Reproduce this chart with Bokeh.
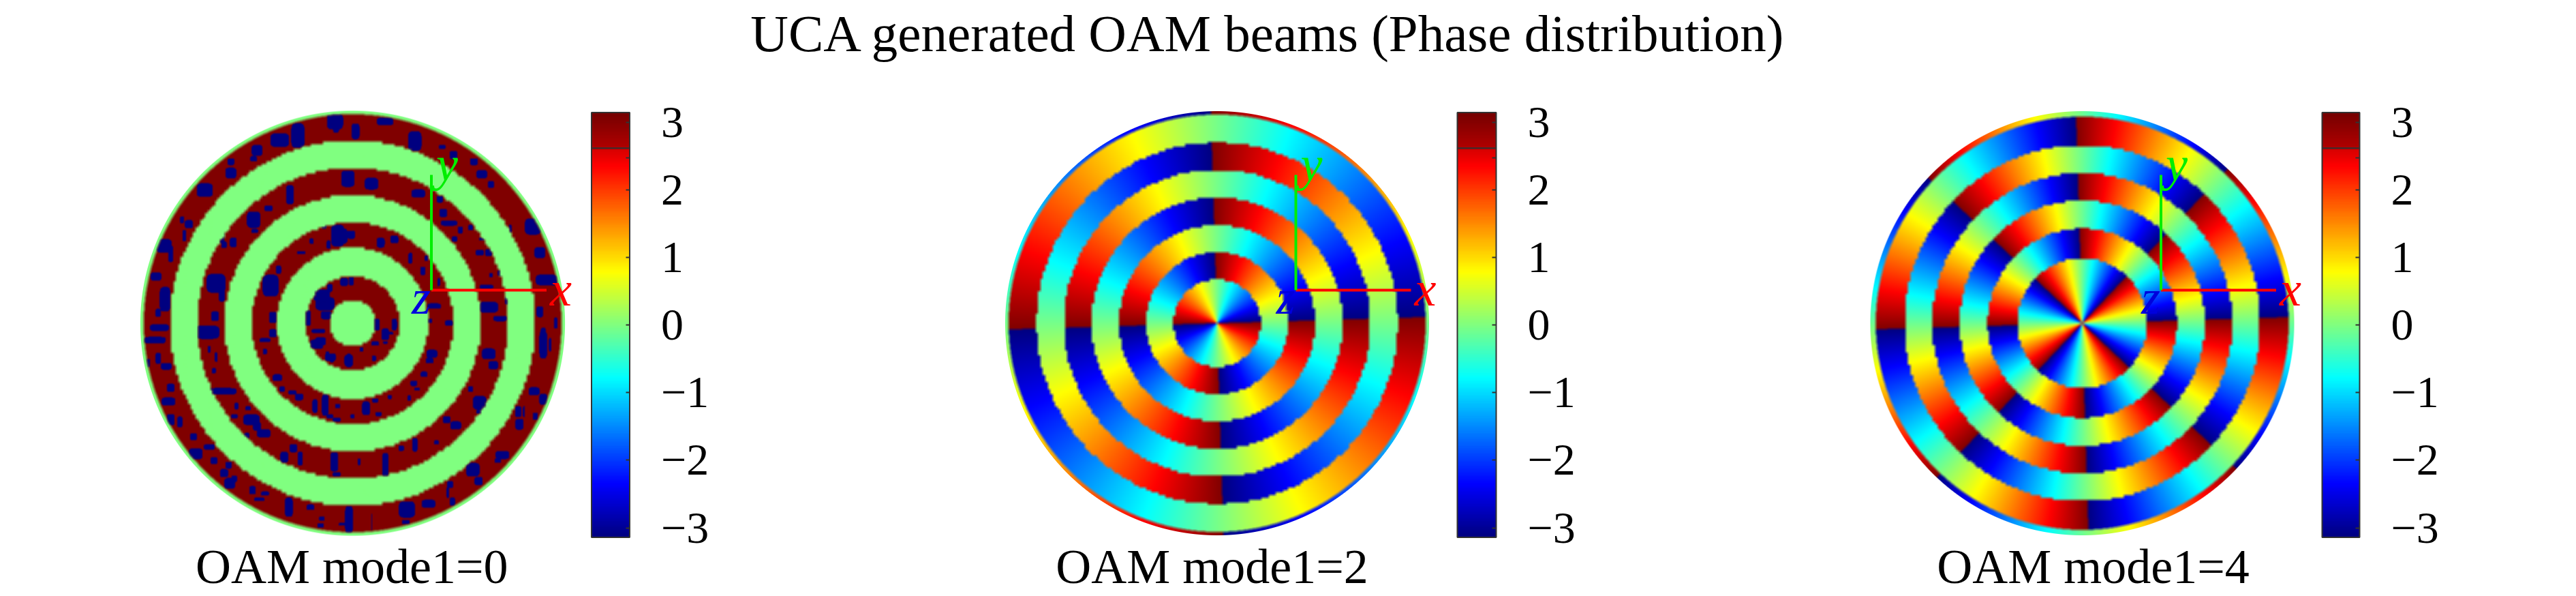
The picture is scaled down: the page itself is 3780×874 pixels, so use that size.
import numpy as np
from bokeh.core.properties import value
from bokeh.embed import file_html
from bokeh.layouts import column, row
from bokeh.models import ColorBar, FixedTicker, LinearColorMapper, Range1d
from bokeh.plotting import figure
from bokeh.resources import INLINE

TITLE = "UCA generated OAM beams (Phase distribution)"
PANEL_LABELS = ["OAM mode1=0", "OAM mode1=2", "OAM mode1=4"]
OAM_MODES = [0, 2, 4]

# Ring edges, as pixel radii of the reference disc
EDGES_0 = [34, 69, 111, 148, 188, 228, 268, 306.5]
EDGES_2 = [64, 104, 144, 184, 225, 265, 306]
EDGES_4 = [95, 139, 180, 220, 261, 303]
# Phase offset of each ring, in units of pi
OFFSETS_0 = [0, 1, 0, 1, 0, 1, 0, 1, 0]
OFFSETS_2 = [-1, 0, -1, 0, -1, 0, -1, 0]
OFFSETS_4 = [0, 1, 0, 1, 0, 1, 0]
PHASE_ROTATION_DEG = 1.7

TICK_VALUES = [-3, -2, -1, 0, 1, 2, 3]
TICK_TEXT = ["\u22123", "\u22122", "\u22121", "0", "1", "2", "3"]
BAR_MINOR_TICK = [2.47]
BAR_LINE_VALUE = 2.62

# Wrapped (-pi) patches in the dark rings of the mode 0 panel, read from crops:
# (x, y, width, height) in crop pixels
SPECKS_UL = [(710,130,50,90),(878,75,25,70),(630,150,70,50),(530,195,40,40),(415,245,25,25),(415,295,40,40),
 (515,232,25,20),(300,370,60,50),(230,520,30,30),(200,500,15,25),(120,615,60,50),(210,570,15,40),(85,750,40,30),
 (125,850,40,90),(95,910,20,30),(150,650,20,60),(930,320,50,60),(675,390,30,70),(580,450,30,20),(515,500,50,60),
 (520,550,25,15),(425,600,25,35),(385,610,20,25),(375,580,20,40),(350,780,70,70),(375,830,25,50),(345,925,30,35),
 (885,570,50,80),(945,570,20,25),(825,530,20,15),(845,610,15,30),(725,645,30,12),(770,595,15,20),(625,720,20,30),
 (590,790,60,80),(830,870,70,50),(850,800,20,30),(835,920,40,30),(945,770,20,30),(600,930,30,40)]
SPECKS_LL = [(80,70,80,25),(100,15,70,25),(95,150,20,40),(50,170,15,30),(130,185,40,25),(150,280,30,30),(140,340,50,30),
 (150,420,30,40),(190,430,20,40),(250,495,25,25),(260,570,50,40),(320,540,40,20),(340,600,25,25),(405,620,25,25),
 (385,655,30,30),(410,700,40,40),(430,680,20,25),(510,730,25,30),(565,745,30,15),(540,770,40,12),(670,805,30,70),
 (765,805,30,20),(815,855,20,15),(810,885,25,15),(935,860,30,100),(905,880,25,10),(310,35,90,50),(320,110,10,25),
 (350,145,10,35),(340,205,15,20),(380,295,100,25),(440,360,15,25),(490,370,20,15),(430,405,25,15),(505,420,60,40),
 (530,450,30,30),(560,480,50,30),(485,490,20,20),(690,545,30,30),(650,585,30,40),(720,590,20,50),(870,605,30,70),
 (880,660,30,15),(565,70,40,15),(600,40,30,30),(565,120,15,20),(620,235,35,25),(640,285,20,20),(685,300,30,15),
 (715,320,30,25),(785,360,20,50),(830,355,25,80),(885,360,20,15),(850,405,25,15),(880,420,30,15),(950,405,15,15),
 (810,75,40,30),(800,30,50,15),(860,150,15,30),(935,160,20,50),(840,130,15,15)]
SPECKS_LR = [(30,110,15,15),(90,85,30,15),(135,80,20,10),(155,40,25,10),(85,150,15,20),(50,370,30,50),(90,335,25,15),
 (105,395,25,15),(340,130,40,30),(330,160,30,20),(305,220,25,20),(260,260,25,20),(275,285,20,12),(240,325,15,20),
 (155,320,15,15),(590,130,50,40),(610,180,35,30),(510,285,20,20),(550,345,50,50),(550,385,25,15),(445,445,40,30),
 (405,420,30,25),(360,520,20,15),(265,530,20,50),(205,545,20,20),(135,620,25,90),(20,605,10,25),(830,90,30,100),
 (860,90,10,50),(790,295,40,30),(830,330,30,40),(720,385,25,40),(745,385,8,40),(725,440,30,40),(795,405,20,25),
 (650,575,50,30),(630,600,25,15),(520,640,50,50),(545,690,30,30),(420,705,25,25),(410,740,10,40),(430,780,20,30),
 (325,790,50,30),(230,815,60,60),(225,870,30,15),(75,870,5,60)]
SPECKS_UR = [(25,20,40,50),(195,80,30,30),(145,45,25,15),(285,110,30,25),(320,165,40,30),(360,210,25,25),(545,395,60,60),
 (575,510,40,40),(445,405,10,30),(605,630,80,40),(575,770,25,40),(590,870,20,50),(645,820,15,40),(40,250,50,30),
 (135,275,25,25),(150,335,30,30),(175,380,60,20),(225,410,20,25),(200,450,20,20),(270,400,20,20),(320,450,20,12),
 (310,510,30,20),(350,510,25,25),(360,610,15,15),(400,600,20,20),(340,660,50,15),(350,750,70,40),(400,800,50,20),
 (430,720,15,30),(5,535,15,40),(75,535,15,20),(60,590,20,30),(130,640,10,30),(110,745,50,20),(175,820,30,20),(90,810,20,15)]
SPECKS_TOP = [(510,120,30,40),(555,150,15,40),(620,120,30,20),(685,180,25,50),(590,310,25,30),(535,295,15,30),
 (520,470,30,40),(545,465,15,20),(610,490,15,25),(640,480,15,20),(480,650,30,30),(530,610,15,20),(450,720,12,40),
 (480,680,20,20),(600,740,14,30),(620,770,14,30),(540,850,16,30),(470,800,24,24),(640,740,10,30),(500,840,20,20)]
SPECK_CROPS = [(SPECKS_UL, 200, 155, 3, 3), (SPECKS_LL, 200, 475, 3, 3), (SPECKS_LR, 520, 475, 3, 3),
               (SPECKS_UR, 600, 200, 3, 3), (SPECKS_TOP, 150, 120, 1.495, 2.082)]

# Layout, in page pixels of the reference. Bokeh's page template sets the body margin to 0.
TITLE_HEIGHT = 130
PANEL_EDGES = [0, 1151, 2420, 3780]
PANEL_HEIGHT = 744
CENTRES_X = [517.0, 1785.5, 3055.0]
CENTRE_Y = 473.5
RADII = [311.6, 311.0, 311.0]
BAR_X = [(867.5, 924), (2138, 2195), (3407, 3462)]
BAR_Y = (165, 787.6)
LABEL_X = [515.8, 1778, 3071]
LABEL_BASELINE_Y = 830
TITLE_X = 1861
TITLE_BASELINE_Y = 48
AXIS_ORIGIN = (115.5, 48.5)
AXIS_LEN = 169
SERIF = "Liberation Serif"


def jet(f):
    f = np.asarray(f, dtype=float)
    r = np.clip(np.minimum(4 * f - 1.5, -4 * f + 4.5), 0, 1)
    g = np.clip(np.minimum(4 * f - 0.5, -4 * f + 3.5), 0, 1)
    b = np.clip(np.minimum(4 * f + 0.5, -4 * f + 2.5), 0, 1)
    return np.stack([r, g, b], axis=-1)


def bar_palette():
    levels = np.linspace(0, 1, 256)
    rgb = jet(levels)
    vals = levels * 2 * np.pi - np.pi
    top = vals > BAR_LINE_VALUE
    rgb[top, 0] = 0.46 + (np.pi - vals[top]) / (np.pi - BAR_LINE_VALUE) * 0.24
    return ["#%02x%02x%02x" % tuple(int(round(c * 255)) for c in v) for v in rgb]


def blur(a, k):
    out = a
    for axis in (0, 1):
        pad = [(0, 0)] * a.ndim
        pad[axis] = (k + 1, k)
        c = np.cumsum(np.pad(out, pad, mode="edge"), axis=axis)
        hi = np.take(c, range(2 * k + 1, c.shape[axis]), axis=axis)
        lo = np.take(c, range(0, c.shape[axis] - 2 * k - 1), axis=axis)
        out = (hi - lo) / (2 * k + 1)
    return out


def field_rgba(mode, edges, offsets, radius, specks):
    n = int(2 * radius) + 4
    c = (np.arange(n) - (n - 1) / 2)
    x, y = np.meshgrid(c, c)
    q = 3.6
    qx = (np.floor(x / q) + 0.5) * q
    qy = (np.floor(y / q) + 0.5) * q
    r_fine = np.hypot(x, y)
    r_q = np.hypot(qx, qy)
    # the thin outer rim has a smooth inner edge, the rings a stepped one
    idx = np.searchsorted(np.asarray(edges, float), np.where(r_fine > edges[-2] + 12, r_fine, r_q))
    off = np.asarray(offsets, float)[np.minimum(idx, len(offsets) - 1)] * np.pi
    theta = np.arctan2(y, x) - np.radians(PHASE_ROTATION_DEG)
    phase = mode * theta + off
    if mode:
        phase = np.angle(np.exp(1j * phase))
        rgb = jet((phase + np.pi) / (2 * np.pi))
    else:
        phase = np.where(off > 0, np.pi, 0.0)
        rgb = jet((phase + np.pi) / (2 * np.pi))
    rgb = blur(rgb, 2)
    if specks:
        dark = blur((off > 0).astype(float), 2)
        mask = np.zeros_like(x)
        for items, ox, oy, sx, sy in specks:
            for zx, zy, w, h in items:
                dx = ox + zx / sx - CENTRES_X[0]
                dy = CENTRE_Y - (oy + zy / sy)
                # blocky patches, somewhat larger than their first reading
                ex = np.abs((x - dx) / (0.6 * w / sx))
                ey = np.abs((y - dy) / (0.6 * h / sy))
                mask[ex ** 4 + ey ** 4 <= 1] = 1
        weight = (blur(mask, 1) * dark)[..., None]
        rgb = rgb * (1 - weight) + jet(np.zeros_like(x)) * weight
    alpha = np.clip(radius - r_fine + 0.5, 0, 1)
    img = np.dstack([rgb, alpha])
    return (np.clip(img, 0, 1) * 255).round().astype(np.uint8).view(np.uint32).reshape(n, n), n


def panel(i, edges, offsets, palette, specks=None):
    left, right = PANEL_EDGES[i], PANEL_EDGES[i + 1]
    w = right - left
    cx, R = CENTRES_X[i], RADII[i]
    top = TITLE_HEIGHT
    # 1 data unit = the disc radius
    to_x = lambda px: (px - cx) / R
    to_y = lambda py: (CENTRE_Y - py) / R
    p = figure(width=w, height=PANEL_HEIGHT, output_backend="svg", toolbar_location=None,
               x_range=Range1d(to_x(left), to_x(right)), y_range=Range1d(to_y(top + PANEL_HEIGHT), to_y(top)),
               x_axis_type=None, y_axis_type=None, min_border=0, outline_line_color=None)
    p.grid.visible = False
    img, n = field_rgba(OAM_MODES[i], edges, offsets, R, specks)
    half = n / 2 / R
    p.image_rgba(image=[img], x=-half, y=-half, dw=2 * half, dh=2 * half)

    ox, oy = AXIS_ORIGIN[0] / R, AXIS_ORIGIN[1] / R
    ln = AXIS_LEN / R
    p.segment(x0=[ox], y0=[oy], x1=[ox + ln], y1=[oy], line_color="#ff0000", line_width=4)
    p.segment(x0=[ox], y0=[oy], x1=[ox], y1=[oy + ln], line_color="#00ee00", line_width=4)
    for txt, tx, ty, col in [("x", ox + 190 / R, oy + 2 / R, "#ff0000"), ("y", ox + 23 / R, oy + 185 / R, "#00ee00"),
                             ("z", ox - 15 / R, oy - 10 / R, "#0000dd")]:
        p.text(x=[tx], y=[ty], text=[txt], text_color=col, text_font=value(SERIF), text_font_style="italic",
               text_font_size="72px", text_align="center", text_baseline="middle")

    p.text(x=[to_x(LABEL_X[i])], y=[to_y(LABEL_BASELINE_Y)], text=[PANEL_LABELS[i]], text_color="#000000",
           text_font=value(SERIF), text_font_size="72px", text_align="center", text_baseline="alphabetic")

    mapper = LinearColorMapper(palette=palette, low=-np.pi, high=np.pi)
    bx0, bx1 = BAR_X[i]
    bar_h = BAR_Y[1] - BAR_Y[0]
    cb = ColorBar(color_mapper=mapper, width=int(round(bx1 - bx0)), height=int(round(bar_h)),
                  location=(bx0 - left, top + PANEL_HEIGHT - BAR_Y[1]),
                  ticker=FixedTicker(ticks=TICK_VALUES, minor_ticks=BAR_MINOR_TICK),
                  major_label_overrides=dict(zip(TICK_VALUES, TICK_TEXT)),
                  major_label_text_font=SERIF, major_label_text_font_size="66px", major_label_text_color="#000000",
                  label_standoff=46, major_tick_in=6, major_tick_out=0, major_tick_line_color="#333333",
                  major_tick_line_width=2, minor_tick_in=6, minor_tick_out=0, minor_tick_line_color="#333333",
                  minor_tick_line_width=2, bar_line_color="#333333", bar_line_width=2, border_line_color=None,
                  background_fill_alpha=0, margin=0, padding=0)
    p.add_layout(cb, "center")
    line_y = BAR_Y[0] + bar_h * (np.pi - BAR_LINE_VALUE) / (2 * np.pi)
    p.segment(x0=[to_x(bx0)], y0=[to_y(line_y)], x1=[to_x(bx1)], y1=[to_y(line_y)], line_color="#333333",
              line_width=2, level="overlay")
    return p


palette = bar_palette()
title_fig = figure(width=PANEL_EDGES[-1], height=TITLE_HEIGHT, output_backend="svg",
                   toolbar_location=None, x_range=Range1d(0, PANEL_EDGES[-1]), y_range=Range1d(TITLE_HEIGHT, 0),
                   x_axis_type=None, y_axis_type=None, min_border=0, outline_line_color=None)
title_fig.grid.visible = False
title_fig.text(x=[TITLE_X], y=[TITLE_BASELINE_Y], text=[TITLE], text_color="#000000", text_font=value(SERIF),
               text_font_size="77px", text_align="center", text_baseline="alphabetic")

p0 = panel(0, EDGES_0, OFFSETS_0, palette, SPECK_CROPS)
p1 = panel(1, EDGES_2, OFFSETS_2, palette)
p2 = panel(2, EDGES_4, OFFSETS_4, palette)

layout = column(title_fig, row(p0, p1, p2, spacing=0), spacing=0)
open("out.html", "w").write(file_html(layout, INLINE))
